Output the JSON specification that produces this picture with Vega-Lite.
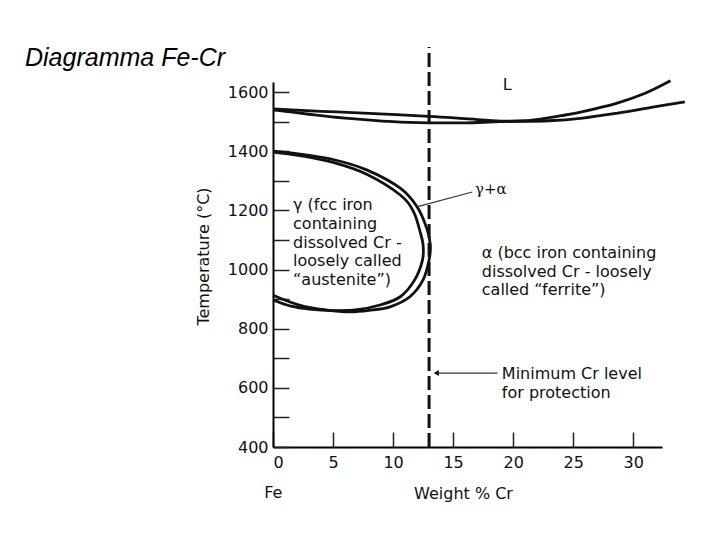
{
  "$schema": "https://vega.github.io/schema/vega-lite/v6.json",
  "autosize": {"type": "none"},
  "padding": {"left": 273, "top": 82, "right": 58, "bottom": 93},
  "width": 389,
  "height": 365,
  "background": "white",
  "title": {
    "text": "Diagramma Fe-Cr",
    "anchor": "start",
    "frame": "group",
    "dx": -248,
    "dy": 62,
    "offset": 17,
    "baseline": "alphabetic",
    "font": "Liberation Sans",
    "fontSize": 25,
    "fontStyle": "italic",
    "fontWeight": "normal",
    "color": "black"
  },
  "config": {
    "view": {"stroke": null},
    "axis": {
      "grid": false,
      "domainColor": "black",
      "domainWidth": 2,
      "tickColor": "#222",
      "tickWidth": 1.5,
      "labelFont": "DejaVu Sans",
      "labelFontSize": 16,
      "labelColor": "#111",
      "titleFont": "DejaVu Sans",
      "titleFontSize": 16,
      "titleFontWeight": "normal",
      "titleColor": "#111"
    }
  },
  "datasets": {
    "curves": [
      {"curve": "liquidus", "order": 1, "cr": 0, "t": 1543},
      {"curve": "liquidus", "order": 2, "cr": 4, "t": 1535},
      {"curve": "liquidus", "order": 3, "cr": 8, "t": 1528},
      {"curve": "liquidus", "order": 4, "cr": 13, "t": 1518},
      {"curve": "liquidus", "order": 5, "cr": 16, "t": 1510},
      {"curve": "liquidus", "order": 6, "cr": 19, "t": 1502},
      {"curve": "liquidus", "order": 7, "cr": 21, "t": 1503},
      {"curve": "liquidus", "order": 8, "cr": 22.5, "t": 1510},
      {"curve": "liquidus", "order": 9, "cr": 24, "t": 1520},
      {"curve": "liquidus", "order": 10, "cr": 25.8, "t": 1534},
      {"curve": "liquidus", "order": 11, "cr": 28.6, "t": 1562},
      {"curve": "liquidus", "order": 12, "cr": 31, "t": 1596},
      {"curve": "liquidus", "order": 13, "cr": 33.1, "t": 1638},
      {"curve": "solidus", "order": 1, "cr": 0, "t": 1540},
      {"curve": "solidus", "order": 2, "cr": 3, "t": 1525},
      {"curve": "solidus", "order": 3, "cr": 6, "t": 1512},
      {"curve": "solidus", "order": 4, "cr": 10, "t": 1500},
      {"curve": "solidus", "order": 5, "cr": 13, "t": 1496},
      {"curve": "solidus", "order": 6, "cr": 16, "t": 1496},
      {"curve": "solidus", "order": 7, "cr": 19, "t": 1500},
      {"curve": "solidus", "order": 8, "cr": 23, "t": 1503},
      {"curve": "solidus", "order": 9, "cr": 25.8, "t": 1512},
      {"curve": "solidus", "order": 10, "cr": 28.6, "t": 1528},
      {"curve": "solidus", "order": 11, "cr": 31.5, "t": 1548},
      {"curve": "solidus", "order": 12, "cr": 34.3, "t": 1567},
      {"curve": "outer", "order": 1, "cr": 0, "t": 1400},
      {"curve": "outer", "order": 2, "cr": 2.25, "t": 1390},
      {"curve": "outer", "order": 3, "cr": 5, "t": 1372},
      {"curve": "outer", "order": 4, "cr": 7.8, "t": 1337},
      {"curve": "outer", "order": 5, "cr": 10.6, "t": 1275},
      {"curve": "outer", "order": 6, "cr": 12, "t": 1212},
      {"curve": "outer", "order": 7, "cr": 12.8, "t": 1140},
      {"curve": "outer", "order": 8, "cr": 13.1, "t": 1085},
      {"curve": "outer", "order": 9, "cr": 13.0, "t": 1032},
      {"curve": "outer", "order": 10, "cr": 12.5, "t": 965},
      {"curve": "outer", "order": 11, "cr": 11.4, "t": 908},
      {"curve": "outer", "order": 12, "cr": 9.75, "t": 874},
      {"curve": "outer", "order": 13, "cr": 8, "t": 862},
      {"curve": "outer", "order": 14, "cr": 6.4, "t": 857},
      {"curve": "outer", "order": 15, "cr": 4.5, "t": 863},
      {"curve": "outer", "order": 16, "cr": 2.25, "t": 879},
      {"curve": "outer", "order": 17, "cr": 0, "t": 913},
      {"curve": "inner", "order": 1, "cr": 0, "t": 1397},
      {"curve": "inner", "order": 2, "cr": 2.25, "t": 1385},
      {"curve": "inner", "order": 3, "cr": 5, "t": 1362},
      {"curve": "inner", "order": 4, "cr": 7.8, "t": 1322},
      {"curve": "inner", "order": 5, "cr": 10.6, "t": 1252},
      {"curve": "inner", "order": 6, "cr": 11.7, "t": 1196},
      {"curve": "inner", "order": 7, "cr": 12.25, "t": 1128},
      {"curve": "inner", "order": 8, "cr": 12.5, "t": 1083},
      {"curve": "inner", "order": 9, "cr": 12.45, "t": 1032},
      {"curve": "inner", "order": 10, "cr": 11.8, "t": 965},
      {"curve": "inner", "order": 11, "cr": 10.6, "t": 908},
      {"curve": "inner", "order": 12, "cr": 8.9, "t": 880},
      {"curve": "inner", "order": 13, "cr": 7, "t": 864},
      {"curve": "inner", "order": 14, "cr": 5, "t": 861},
      {"curve": "inner", "order": 15, "cr": 3, "t": 866},
      {"curve": "inner", "order": 16, "cr": 1.5, "t": 876},
      {"curve": "inner", "order": 17, "cr": 0, "t": 897}
    ],
    "leaders": [
      {"curve": "gamma_alpha", "order": 1, "cr": 16.6, "t": 1262},
      {"curve": "gamma_alpha", "order": 2, "cr": 11.97, "t": 1212},
      {"curve": "arrow", "order": 1, "cr": 18.7, "t": 650},
      {"curve": "arrow", "order": 2, "cr": 13.5, "t": 650}
    ],
    "arrowheads": [
      {"cr": 13.6, "t": 650}
    ],
    "minimum": [
      {"cr": 13, "t": 400, "t2": 1752}
    ],
    "sansLabels": [
      {"cr": 1.67, "t": 1218, "label": "γ (fcc iron\ncontaining\ndissolved Cr -\nloosely called\n“austenite”)"},
      {"cr": 17.39, "t": 1056, "label": "α (bcc iron containing\ndissolved Cr - loosely\ncalled “ferrite”)"},
      {"cr": 19.06, "t": 647, "label": "Minimum Cr level\nfor protection"}
    ],
    "centerLabels": [
      {"cr": 19.5, "t": 1624, "label": "L"},
      {"cr": 0.03, "t": 244, "label": "Fe"}
    ],
    "serifLabels": [
      {"cr": 16.83, "t": 1272, "label": "γ+α"}
    ]
  },
  "encoding": {
    "x": {
      "field": "cr",
      "type": "quantitative",
      "scale": {"domain": [0, 32.4], "nice": false, "zero": false},
      "axis": {
        "title": "Weight  % Cr",
        "values": [0, 5, 10, 15, 20, 25, 30],
        "tickSize": -15,
        "labelPadding": 22,
        "titleX": 190,
        "titleY": 46,
        "titleBaseline": "middle",
        "titleAlign": "center"
      }
    },
    "y": {
      "field": "t",
      "type": "quantitative",
      "scale": {"domain": [400, 1634], "nice": false, "zero": false},
      "axis": {
        "title": "Temperature (°C)",
        "values": [400, 500, 600, 700, 800, 900, 1000, 1100, 1200, 1300, 1400, 1500, 1600],
        "labelExpr": "datum.value % 200 == 0 ? datum.label : ''",
        "format": "d",
        "tickSize": -16,
        "labelPadding": 21,
        "titleX": -70,
        "titleY": 174,
        "titleAngle": -90,
        "titleAlign": "center",
        "titleBaseline": "middle"
      }
    }
  },
  "layer": [
    {
      "data": {"name": "curves"},
      "mark": {"type": "line", "interpolate": "cardinal", "color": "#111", "strokeWidth": 2.8},
      "encoding": {
        "detail": {"field": "curve", "type": "nominal"},
        "order": {"field": "order", "type": "quantitative"}
      }
    },
    {
      "data": {"name": "leaders"},
      "mark": {"type": "line", "color": "#333", "strokeWidth": 1.2},
      "encoding": {
        "detail": {"field": "curve", "type": "nominal"},
        "order": {"field": "order", "type": "quantitative"}
      }
    },
    {
      "data": {"name": "arrowheads"},
      "mark": {"type": "point", "shape": "triangle-left", "filled": true, "color": "#111", "size": 35, "opacity": 1}
    },
    {
      "data": {"name": "minimum"},
      "mark": {"type": "rule", "color": "#111", "strokeWidth": 3, "strokeDash": [14, 5]},
      "encoding": {
        "y2": {"field": "t2"}
      }
    },
    {
      "data": {"name": "sansLabels"},
      "mark": {"type": "text", "align": "left", "baseline": "middle", "font": "DejaVu Sans", "fontSize": 16, "lineBreak": "\n", "lineHeight": 18.75, "color": "#111"},
      "encoding": {"text": {"field": "label", "type": "nominal"}}
    },
    {
      "data": {"name": "centerLabels"},
      "mark": {"type": "text", "align": "center", "baseline": "middle", "font": "DejaVu Sans", "fontSize": 16, "color": "#111"},
      "encoding": {"text": {"field": "label", "type": "nominal"}}
    },
    {
      "data": {"name": "serifLabels"},
      "mark": {"type": "text", "align": "left", "baseline": "middle", "font": "DejaVu Serif", "fontSize": 15, "color": "#111"},
      "encoding": {"text": {"field": "label", "type": "nominal"}}
    }
  ]
}
